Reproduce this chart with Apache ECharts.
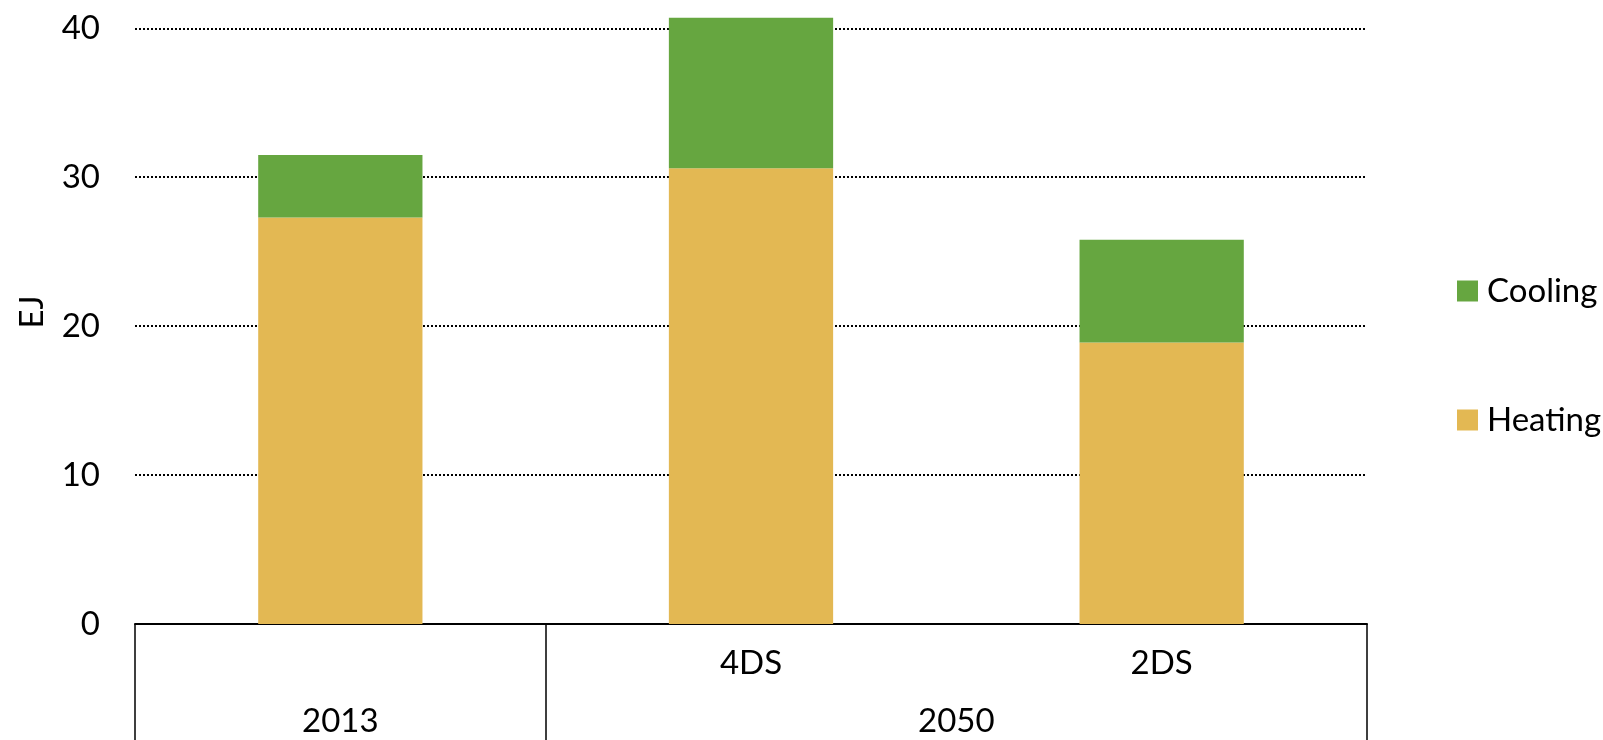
<!DOCTYPE html>
<html>
<head>
<meta charset="utf-8">
<script src="https://cdn.jsdelivr.net/npm/echarts@6/dist/echarts.min.js"></script>
<style>
  html, body { margin: 0; padding: 0; background: #fff; }
  #chart { width: 1603px; height: 740px; }
</style>
</head>
<body>
<div id="chart"></div>
<script>
// scenario labels (first row under the bars)
const scenarios = ['', '4DS', '2DS'];
// year labels (second row), laid on a 7-point helper axis
const yearSlots = ['', '2013', '', '', '2050', '', ''];
const heating = [27.3, 30.6, 18.9];
const cooling = [4.2, 10.1, 6.9];
const yTicks = [0, 10, 20, 30, 40];

const font = 'Lato, "Open Sans", sans-serif';
const fontSize = 33;

const chart = echarts.init(document.getElementById('chart'), null, { renderer: 'canvas' });

chart.setOption({
    animation: false,
    backgroundColor: '#fff',
    textStyle: { fontFamily: font },
    grid: { left: 135, right: 236, top: 0, bottom: 116, containLabel: false },
    legend: {
        orient: 'vertical',
        left: 1452,
        top: 266,
        data: ['Cooling', 'Heating'],
        icon: 'rect',
        itemWidth: 21,
        itemHeight: 21,
        itemGap: 89,
        textStyle: { fontFamily: font, fontSize: fontSize, color: '#000', lineHeight: 40, padding: [0, 0, 0, 4] }
    },
    xAxis: [
        {
            type: 'category',
            data: scenarios,
            axisLine: { show: true, lineStyle: { color: '#000', width: 2 } },
            axisTick: { show: false },
            axisLabel: { interval: 0, color: '#000', fontSize: fontSize, fontFamily: font, margin: 23 }
        },
        {
            type: 'category',
            data: yearSlots,
            boundaryGap: false,
            position: 'bottom',
            axisLine: { show: false },
            axisTick: {
                show: true,
                length: 118,
                interval: (i) => i === 0 || i === 2 || i === 6,
                lineStyle: { color: '#000', width: 1.5 }
            },
            axisLabel: { interval: 0, color: '#000', fontSize: fontSize, fontFamily: font, margin: 81 }
        }
    ],
    yAxis: {
        type: 'value',
        min: 0,
        max: 41.9,
        interval: 10,
        name: 'EJ',
        nameLocation: 'middle',
        nameGap: 86,
        nameTextStyle: { fontFamily: font, fontSize: fontSize, color: '#000' },
        axisLine: { show: false },
        axisTick: { show: false },
        axisLabel: {
            color: '#000', fontSize: fontSize, fontFamily: font, margin: 35,
            showMaxLabel: false,
            formatter: (v) => (yTicks.includes(v) ? String(v) : '')
        },
        splitLine: {
            show: true,
            showMinLine: false,
            showMaxLine: false,
            lineStyle: { color: '#000', width: 2, type: [2, 2] }
        }
    },
    series: [
        {
            name: 'Heating',
            type: 'bar',
            stack: 'total',
            barWidth: '40%',
            data: heating,
            itemStyle: { color: '#E3B853' }
        },
        {
            name: 'Cooling',
            type: 'bar',
            stack: 'total',
            barWidth: '40%',
            data: cooling,
            itemStyle: { color: '#66A640' }
        }
    ]
});
</script>
</body>
</html>
